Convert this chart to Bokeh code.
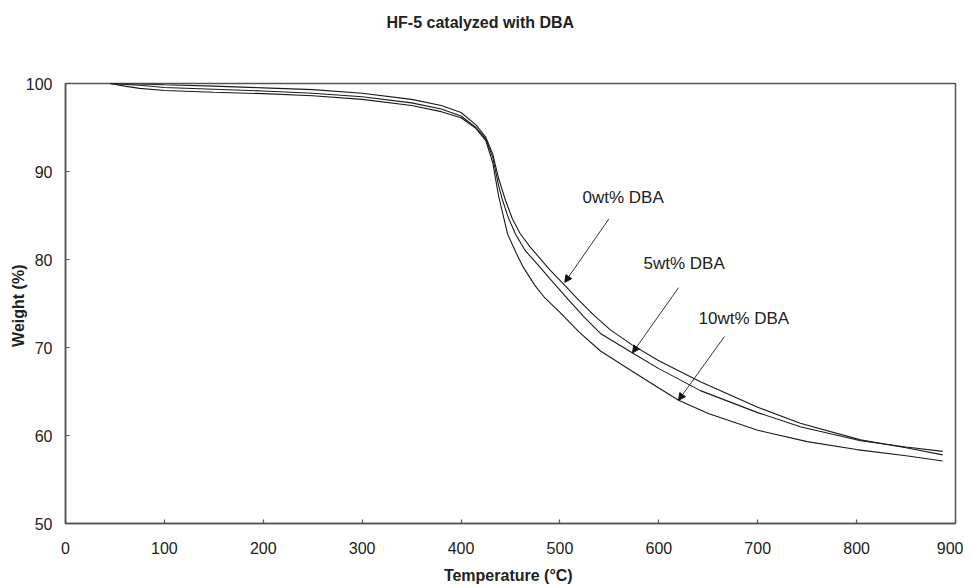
from bokeh.plotting import figure
from bokeh.models import Range1d, FixedTicker, Label, Arrow, NormalHead, Title
from bokeh.embed import file_html
from bokeh.resources import INLINE

# ---- data ----
temp_0 = [45, 75, 100, 150, 200, 250, 300, 350, 380, 400, 415, 425, 432, 438, 445, 452,
          460, 470, 480, 490, 503, 518, 535, 551, 573, 600, 642, 700, 743, 804, 850, 887]
weight_0 = [100, 99.95, 99.85, 99.7, 99.5, 99.3, 98.9, 98.2, 97.5, 96.7, 95.3, 93.9, 92.0,
            89.2, 86.7, 84.6, 82.9, 81.4, 80.1, 78.8, 77.3, 75.5, 73.6, 72.0, 70.3, 68.5,
            66.1, 63.2, 61.4, 59.5, 58.6, 57.8]

temp_5 = [45, 75, 100, 150, 200, 250, 300, 350, 380, 400, 415, 425, 432, 438, 442, 448,
          455, 465, 480, 490, 508, 525, 541, 573, 600, 642, 700, 743, 804, 850, 887]
weight_5 = [100, 99.8, 99.55, 99.35, 99.15, 98.9, 98.5, 97.8, 97.1, 96.3, 95.0, 93.7, 91.6,
            88.4, 86.7, 84.7, 82.9, 81.0, 79.1, 77.8, 75.5, 73.4, 71.6, 69.4, 67.6, 65.1,
            62.6, 61.0, 59.4, 58.7, 58.2]

temp_10 = [45, 60, 75, 100, 150, 200, 250, 300, 350, 380, 400, 415, 425, 432, 438, 447,
           455, 463, 475, 485, 500, 520, 541, 573, 600, 620, 650, 700, 750, 800, 850, 887]
weight_10 = [100, 99.7, 99.45, 99.2, 99.0, 98.85, 98.6, 98.2, 97.5, 96.8, 96.1, 94.9, 93.5,
             91.0, 87.2, 82.9, 80.9, 79.1, 77.0, 75.6, 74.0, 71.7, 69.6, 67.3, 65.4, 64.0,
             62.5, 60.6, 59.3, 58.4, 57.7, 57.1]

series_names = ["0wt% DBA", "5wt% DBA", "10wt% DBA"]
title_text = "HF-5 catalyzed with DBA"
x_ticks = [0, 100, 200, 300, 400, 500, 600, 700, 800, 900]
y_ticks = [50, 60, 70, 80, 90, 100]

FONT = "Liberation Sans"
AX = "#555555"
TXT = "#222222"

p = figure(width=963, height=586, output_backend="svg", toolbar_location=None,
           x_range=Range1d(0, 900), y_range=Range1d(50, 100),
           min_border_left=65, min_border_right=8, min_border_top=83, min_border_bottom=63)

p.title.text = ""
# spacer between frame and title, then the real title (outermost)
p.add_layout(Title(text=" ", text_font=FONT, text_font_size="16px", standoff=34), "above")
p.add_layout(Title(text=title_text, text_font=FONT, text_font_size="16px",
                   text_font_style="bold", text_color=TXT, align="left", offset=321,
                   standoff=0), "above")

p.xgrid.visible = False
p.ygrid.visible = False
p.outline_line_color = AX
p.outline_line_width = 1.5
p.background_fill_color = "white"
p.border_fill_color = "white"

for ax in (p.xaxis[0], p.yaxis[0]):
    ax.axis_line_color = AX
    ax.axis_line_width = 1.5
    ax.major_tick_line_color = AX
    ax.major_tick_line_width = 1.2
    ax.major_tick_in = 4
    ax.major_tick_out = 0
    ax.minor_tick_line_color = None
    ax.major_label_text_font = FONT
    ax.major_label_text_font_size = "16px"
    ax.major_label_text_color = TXT
    ax.axis_label_text_font = FONT
    ax.axis_label_text_font_size = "16px"
    ax.axis_label_text_font_style = "bold"
    ax.axis_label_text_color = TXT

p.xaxis.ticker = FixedTicker(ticks=x_ticks)
p.yaxis.ticker = FixedTicker(ticks=y_ticks)
p.xaxis.axis_label = "Temperature  (\u00b0C)"
p.yaxis.axis_label = "Weight  (%)"
p.xaxis.major_label_standoff = 18
p.xaxis.axis_label_standoff = 10
p.yaxis.major_label_standoff = 13
p.yaxis.axis_label_standoff = -4

for t, w in ((temp_0, weight_0), (temp_5, weight_5), (temp_10, weight_10)):
    p.line(t, w, line_color="#1a1a1a", line_width=1.1)

# annotations: (label position) and arrow (start -> tip)
ann = [
    (series_names[0], 522.8, 87.05, 549.4, 84.6, 504.9, 77.4),
    (series_names[1], 584.5, 79.55, 619.9, 76.8, 573.4, 69.4),
    (series_names[2], 640.1, 73.3, 666.4, 71.25, 619.9, 64.0),
]
for txt, lx, ly, x0, y0, x1, y1 in ann:
    p.add_layout(Label(x=lx, y=ly, text=txt, text_font=FONT, text_font_size="17px",
                       text_baseline="middle", text_align="left", text_color=TXT))
    p.add_layout(Arrow(x_start=x0, y_start=y0, x_end=x1, y_end=y1,
                       line_color="#333333", line_width=1,
                       end=NormalHead(size=7, fill_color="#111111", line_color="#111111")))

open("out.html", "w").write(file_html(p, INLINE))
